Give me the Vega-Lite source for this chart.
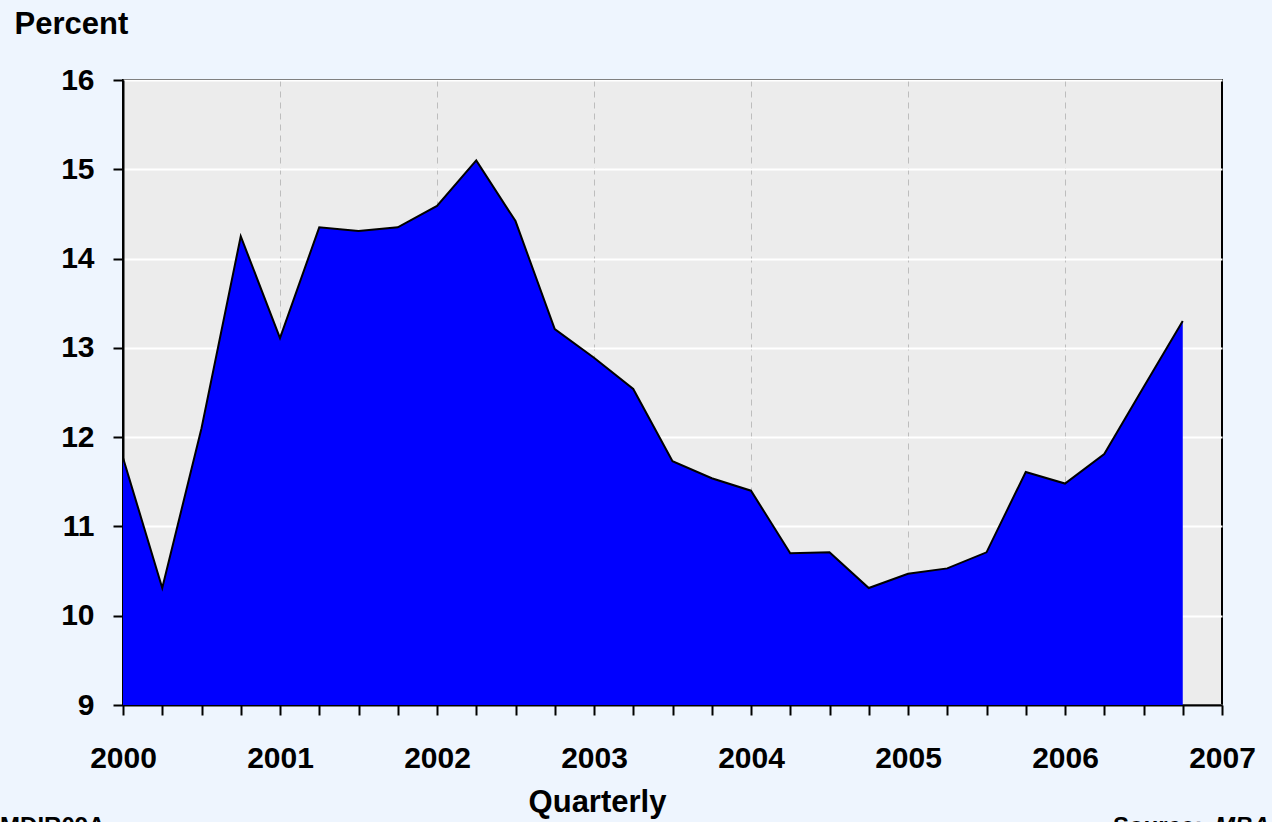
{
  "$schema": "https://vega.github.io/schema/vega-lite/v6.json",
  "width": 1099,
  "height": 625,
  "autosize": {"type": "none"},
  "padding": {"left": 123, "top": 80, "right": 50, "bottom": 117},
  "background": "#eef5fe",
  "config": {
    "font": "Liberation Sans",
    "view": {"fill": "#ececec", "stroke": "#000000", "strokeWidth": 2},
    "axis": {"labelFont": "Liberation Sans", "titleFont": "Liberation Sans"},
    "axisX": {
      "title": "Quarterly",
      "titleFontSize": 31,
      "titleFontWeight": "bold",
      "titleColor": "#000000",
      "titleBaseline": "alphabetic",
      "titleAlign": "center",
      "titleX": 474,
      "titleY": 106,
      "labelFontSize": 30,
      "labelFontWeight": "bold",
      "labelColor": "#000000",
      "labelPadding": 28,
      "labelFlush": false,
      "labelOverlap": false,
      "tickSize": 10,
      "tickColor": "#000000",
      "tickWidth": 2,
      "domainColor": "#000000",
      "domainWidth": 2,
      "grid": true,
      "gridColor": "#bdbdbd",
      "gridDash": [6, 5],
      "gridWidth": 1
    },
    "axisY": {
      "titleAngle": 0,
      "titleAlign": "left",
      "titleBaseline": "alphabetic",
      "titleX": -109,
      "titleY": -47,
      "titleFontSize": 31,
      "titleFontWeight": "bold",
      "titleColor": "#000000",
      "labelFontSize": 30,
      "labelFontWeight": "bold",
      "labelColor": "#000000",
      "labelPadding": 19,
      "tickSize": 10,
      "tickColor": "#000000",
      "tickWidth": 2,
      "domainColor": "#000000",
      "domainWidth": 2,
      "grid": true,
      "gridColor": "#ffffff",
      "gridWidth": 2
    }
  },
  "datasets": {
    "series": [
      {"t": 2000.0, "v": 11.77},
      {"t": 2000.25, "v": 10.31},
      {"t": 2000.5, "v": 12.10},
      {"t": 2000.75, "v": 14.25},
      {"t": 2001.0, "v": 13.11},
      {"t": 2001.25, "v": 14.35},
      {"t": 2001.5, "v": 14.31},
      {"t": 2001.75, "v": 14.35},
      {"t": 2002.0, "v": 14.59},
      {"t": 2002.25, "v": 15.10},
      {"t": 2002.5, "v": 14.42},
      {"t": 2002.75, "v": 13.21},
      {"t": 2003.0, "v": 12.89},
      {"t": 2003.25, "v": 12.54},
      {"t": 2003.5, "v": 11.73},
      {"t": 2003.75, "v": 11.54},
      {"t": 2004.0, "v": 11.40},
      {"t": 2004.25, "v": 10.70},
      {"t": 2004.5, "v": 10.71},
      {"t": 2004.75, "v": 10.31},
      {"t": 2005.0, "v": 10.47},
      {"t": 2005.25, "v": 10.53},
      {"t": 2005.5, "v": 10.71},
      {"t": 2005.75, "v": 11.61},
      {"t": 2006.0, "v": 11.48},
      {"t": 2006.25, "v": 11.81},
      {"t": 2006.5, "v": 12.56},
      {"t": 2006.75, "v": 13.30}
    ],
    "notes": [
      {"label": "note"}
    ]
  },
  "layer": [
    {
      "data": {"name": "series"},
      "mark": {"type": "area", "color": "#0000ff", "opacity": 1, "interpolate": "linear", "line": {"color": "#000000", "strokeWidth": 2}},
      "encoding": {
        "x": {
          "field": "t",
          "type": "quantitative",
          "scale": {"domain": [2000, 2007], "nice": false, "zero": false},
          "axis": {
            "title": "Quarterly",
            "values": [2000, 2000.25, 2000.5, 2000.75, 2001, 2001.25, 2001.5, 2001.75, 2002, 2002.25, 2002.5, 2002.75, 2003, 2003.25, 2003.5, 2003.75, 2004, 2004.25, 2004.5, 2004.75, 2005, 2005.25, 2005.5, 2005.75, 2006, 2006.25, 2006.5, 2006.75, 2007],
            "labelExpr": "datum.value % 1 == 0 ? format(datum.value, 'd') : ''",
            "gridOpacity": {"condition": {"test": "datum.value % 1 == 0 && datum.value > 2000 && datum.value < 2007", "value": 1}, "value": 0}
          }
        },
        "y": {
          "field": "v",
          "type": "quantitative",
          "scale": {"domain": [9, 16], "nice": false, "zero": false},
          "axis": {
            "title": "Percent",
            "values": [9, 10, 11, 12, 13, 14, 15, 16],
            "format": "d"
          }
        },
        "y2": {"datum": 9}
      }
    },
    {
      "data": {"name": "notes"},
      "mark": {"type": "text", "text": "MDIR09A", "align": "left", "baseline": "alphabetic", "fontSize": 24, "fontWeight": "bold", "color": "#000000", "clip": false},
      "encoding": {
        "x": {"datum": 1999.217, "type": "quantitative", "axis": {"title": "Quarterly", "values": [2000, 2000.25, 2000.5, 2000.75, 2001, 2001.25, 2001.5, 2001.75, 2002, 2002.25, 2002.5, 2002.75, 2003, 2003.25, 2003.5, 2003.75, 2004, 2004.25, 2004.5, 2004.75, 2005, 2005.25, 2005.5, 2005.75, 2006, 2006.25, 2006.5, 2006.75, 2007], "labelExpr": "datum.value % 1 == 0 ? format(datum.value, 'd') : ''", "gridOpacity": {"condition": {"test": "datum.value % 1 == 0 && datum.value > 2000 && datum.value < 2007", "value": 1}, "value": 0}}},
        "y": {"datum": 7.55, "type": "quantitative", "axis": {"title": "Percent", "values": [9, 10, 11, 12, 13, 14, 15, 16], "format": "d"}}
      }
    },
    {
      "data": {"name": "notes"},
      "mark": {"type": "text", "text": "Source:", "align": "left", "baseline": "alphabetic", "fontSize": 24, "fontWeight": "bold", "color": "#000000", "clip": false},
      "encoding": {
        "x": {"datum": 2006.306, "type": "quantitative", "axis": {"title": "Quarterly", "values": [2000, 2000.25, 2000.5, 2000.75, 2001, 2001.25, 2001.5, 2001.75, 2002, 2002.25, 2002.5, 2002.75, 2003, 2003.25, 2003.5, 2003.75, 2004, 2004.25, 2004.5, 2004.75, 2005, 2005.25, 2005.5, 2005.75, 2006, 2006.25, 2006.5, 2006.75, 2007], "labelExpr": "datum.value % 1 == 0 ? format(datum.value, 'd') : ''", "gridOpacity": {"condition": {"test": "datum.value % 1 == 0 && datum.value > 2000 && datum.value < 2007", "value": 1}, "value": 0}}},
        "y": {"datum": 7.55, "type": "quantitative", "axis": {"title": "Percent", "values": [9, 10, 11, 12, 13, 14, 15, 16], "format": "d"}}
      }
    },
    {
      "data": {"name": "notes"},
      "mark": {"type": "text", "text": "MBA", "align": "left", "baseline": "alphabetic", "fontSize": 24, "fontWeight": "bold", "fontStyle": "italic", "color": "#000000", "clip": false},
      "encoding": {
        "x": {"datum": 2006.955, "type": "quantitative", "axis": {"title": "Quarterly", "values": [2000, 2000.25, 2000.5, 2000.75, 2001, 2001.25, 2001.5, 2001.75, 2002, 2002.25, 2002.5, 2002.75, 2003, 2003.25, 2003.5, 2003.75, 2004, 2004.25, 2004.5, 2004.75, 2005, 2005.25, 2005.5, 2005.75, 2006, 2006.25, 2006.5, 2006.75, 2007], "labelExpr": "datum.value % 1 == 0 ? format(datum.value, 'd') : ''", "gridOpacity": {"condition": {"test": "datum.value % 1 == 0 && datum.value > 2000 && datum.value < 2007", "value": 1}, "value": 0}}},
        "y": {"datum": 7.55, "type": "quantitative", "axis": {"title": "Percent", "values": [9, 10, 11, 12, 13, 14, 15, 16], "format": "d"}}
      }
    }
  ]
}
